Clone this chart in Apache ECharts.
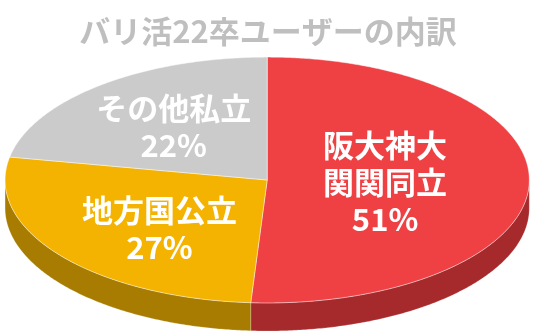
<!DOCTYPE html>
<html>
<head>
<meta charset="utf-8">
<script src="https://cdn.jsdelivr.net/npm/echarts@6/dist/echarts.min.js"></script>
<style>
html,body{margin:0;padding:0;background:#fff;}
#main{width:536px;height:334px;}
</style>
</head>
<body>
<div id="main"></div>
<script>
// ---- data ----
var titleText = 'バリ活22卒ユーザーの内訳';
var categories = ['阪大神大\n関関同立', '地方国公立', 'その他私立'];
var values = [51, 27, 22];

// ---- styles ----
var topColors = ['#EF4044', '#F4B300', '#CBCBCB'];
var sideColors = ['#A62A2C', '#A77C00', '#8E8E8E'];
var labelFrac = [0.45, 0.52, 0.56];
var labelDy = [0, 10, 0];

var total = values.reduce(function (a, b) { return a + b; }, 0);
var starts = [];
var acc = 0;
values.forEach(function (v) { starts.push(acc); acc += v; });

var chart = echarts.init(document.getElementById('main'), null, {renderer: 'canvas'});

function geom(api) {
  var W = api.getWidth(), H = api.getHeight();
  return { cx: W * 0.4985, cy: H * 0.539, rx: W * 0.489, ry: H * 0.368, depth: H * 0.084 };
}
function pt(g, deg, f) {
  var r = deg * Math.PI / 180;
  f = f == null ? 1 : f;
  return [g.cx + f * g.rx * Math.sin(r), g.cy - f * g.ry * Math.cos(r)];
}

function renderItem(params, api) {
  var i = params.dataIndex;
  var g = geom(api);
  var v = api.value(0);
  var a0 = starts[i] / total * 360;
  var a1 = (starts[i] + v) / total * 360;
  var children = [];
  // side wall (front half: 90..270 deg)
  var s0 = Math.max(a0, 90), s1 = Math.min(a1, 270);
  if (s1 > s0) {
    var topPts = [], botPts = [];
    var n = Math.max(2, Math.ceil((s1 - s0) / 0.5));
    for (var k = 0; k <= n; k++) {
      var p = pt(g, s0 + (s1 - s0) * k / n);
      topPts.push(p);
      botPts.push([p[0], p[1] + g.depth]);
    }
    var poly = topPts.concat(botPts.reverse());
    children.push({
      type: 'polygon', z2: 1,
      shape: { points: poly },
      style: { fill: sideColors[i], stroke: 'rgba(255,255,255,0.35)', lineWidth: 0.6 }
    });
  }
  // top face
  var pts = [[g.cx, g.cy]];
  var m = Math.max(2, Math.ceil((a1 - a0) / 0.5));
  for (var j = 0; j <= m; j++) pts.push(pt(g, a0 + (a1 - a0) * j / m));
  children.push({
    type: 'polygon', z2: 10,
    shape: { points: pts },
    style: { fill: topColors[i], stroke: 'rgba(255,255,255,0.55)', lineWidth: 0.8 }
  });
  // label
  var mid = (a0 + a1) / 2;
  var lp = pt(g, mid, labelFrac[i]);
  children.push({
    type: 'text', z2: 20,
    x: lp[0], y: lp[1] + labelDy[i],
    style: {
      text: api.value(1) + '\n' + v + '%',
      fill: '#FFFFFF',
      font: 'bold 31px "Noto Sans CJK JP", sans-serif',
      lineHeight: 37,
      align: 'center',
      verticalAlign: 'middle'
    }
  });
  return { type: 'group', children: children };
}

chart.setOption({
  animation: false,
  title: {
    text: titleText,
    left: 'center',
    top: 11,
    textStyle: { color: '#BFBFBF', fontSize: 31, fontWeight: 'bold', fontFamily: '"Noto Sans CJK JP", sans-serif' }
  },
  series: [{
    type: 'custom',
    coordinateSystem: 'none',
    renderItem: renderItem,
    data: values.map(function (v, i) { return [v, categories[i]]; })
  }]
});
</script>
</body>
</html>
